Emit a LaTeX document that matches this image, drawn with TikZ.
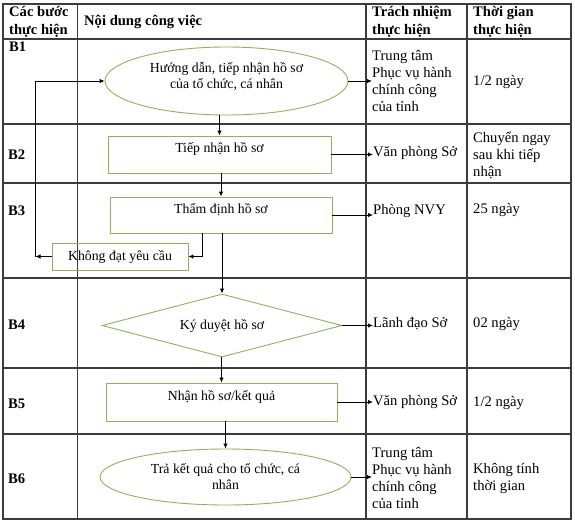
\documentclass[tikz,border=0pt]{standalone}
\usepackage{fontspec}
\setmainfont{Liberation Serif}
\usetikzlibrary{shapes.geometric,arrows.meta}
\definecolor{boxgreen}{HTML}{8DB45A}
\definecolor{tblgray}{HTML}{3C3C3C}
\tikzset{
  tblline/.style={draw=tblgray, line width=1.2pt},
  coltext/.style={font=\fontsize{14.6}{17}\selectfont, inner sep=0pt, anchor=west, align=left},
  headtext/.style={coltext, font=\fontsize{14.6}{17.5}\selectfont\bfseries},
  flowbox/.style={draw=boxgreen, line width=0.9pt, rectangle, inner sep=0pt,
    font=\fontsize{13.8}{16}\selectfont, align=center},
  uptext/.style={text height=9pt, text depth=13pt},
  flowell/.style={flowbox, ellipse},
  flowdia/.style={flowbox, diamond},
  arr/.style={-{Latex[length=5pt,width=4.5pt]}, line width=0.9pt, black},
}
\begin{document}
\begin{tikzpicture}[x=1pt,y=-1pt]
\fill[white] (0,0) rectangle (575,522);
\useasboundingbox (0,0) rectangle (575,522);
% table
\draw[tblline] (3,4) rectangle (571,519);
\foreach \yy in {39,124,183,278,368,434} \draw[tblline] (3,\yy) -- (571,\yy);
\foreach \xx in {77.5,366,467} \draw[tblline] (\xx,4) -- (\xx,519);
% header
\node[headtext] (h1) at (9,22) {Các bước\\thực hiện};
\node[headtext] (h2) at (84,22) {Nội dung công việc};
\node[headtext] (h3) at (372,22) {Trách nhiệm\\thực hiện};
\node[headtext] (h4) at (473,22) {Thời gian\\thực hiện};
% row labels
\node[headtext] (s1) at (9,47) {B1};
\node[headtext] (s2) at (8,155) {B2};
\node[headtext] (s3) at (8,211) {B3};
\node[headtext] (s4) at (8,325) {B4};
\node[headtext] (s5) at (8,404) {B5};
\node[headtext] (s6) at (8,479) {B6};
% responsibility
\node[coltext] (t31) at (372,80.75) {Trung tâm\\Phục vụ hành\\chính công\\của tỉnh};
\node[coltext] (t32) at (373,153) {Văn phòng Sở};
\node[coltext] (t33) at (373,211) {Phòng NVY};
\node[coltext] (t34) at (373,324) {Lãnh đạo Sở};
\node[coltext] (t35) at (373,402) {Văn phòng Sở};
\node[coltext] (t36) at (372,478) {Trung tâm\\Phục vụ hành\\chính công\\của tỉnh};
% time
\node[coltext] (t41) at (473,82) {1/2 ngày};
\node[coltext] (t42) at (473,155) {Chuyển ngay\\sau khi tiếp\\nhận};
\node[coltext] (t43) at (473,210) {25 ngày};
\node[coltext] (t44) at (473,324) {02 ngày};
\node[coltext] (t45) at (473,403) {1/2 ngày};
\node[coltext] (t46) at (473,478.5) {Không tính\\thời gian};
% flow shapes
\node[flowell, text height=26pt, text depth=11pt, minimum width=243pt, minimum height=68pt] (e1) at (226.5,81) {Hướng dẫn, tiếp nhận hồ sơ\\của tổ chức, cá nhân};
\node[flowbox, uptext, minimum width=223pt, minimum height=37pt] (b2) at (219.5,154.5) {Tiếp nhận hồ sơ};
\node[flowbox, uptext, minimum width=222pt, minimum height=36pt] (b3) at (221,215) {Thẩm định hồ sơ};
\node[flowbox, minimum width=136pt, minimum height=27pt] (kd) at (120,256.5) {Không đạt yêu cầu};
\node[flowdia, shape aspect=4, minimum width=240pt, minimum height=63pt] (d4) at (222,325.5) {Ký duyệt hồ sơ};
\node[flowbox, uptext, minimum width=231pt, minimum height=38pt] (b5) at (221.5,402) {Nhận hồ sơ/kết quả};
\node[flowell, minimum width=251pt, minimum height=56pt] (e6) at (225.5,477) {Trả kết quả cho tổ chức, cá\\nhân};
\coordinate (lp) at (35.5,80);
% connectors
\draw[arr] (e1.east) -- (e1.east -| t31.west);
\draw[arr] (b2.north |- e1.south) -- (b2.north);
\draw[arr] (b2.east) -- (b2.east -| t32.west);
\draw[arr] (b3.north |- b2.south) -- (b3.north);
\draw[arr] (b3.east) -- (b3.east -| t33.west);
\draw[arr] ([xshift=-19pt]b3.south) |- (kd.east);
\draw[arr] (kd.west) -- (kd.west -| lp);
\draw[arr] (kd.west -| lp) -- (lp |- e1.west) -- (e1.west);
\draw[arr] (d4.north |- b3.south) -- (d4.north);
\draw[arr] (d4.east) -- (d4.east -| t34.west);
\draw[arr] (b5.north |- d4.south) -- (b5.north);
\draw[arr] (b5.east) -- (b5.east -| t35.west);
\draw[arr] (e6.north |- b5.south) -- (e6.north);
\draw[arr] (e6.east) -- (e6.east -| t36.west);
\end{tikzpicture}
\end{document}
